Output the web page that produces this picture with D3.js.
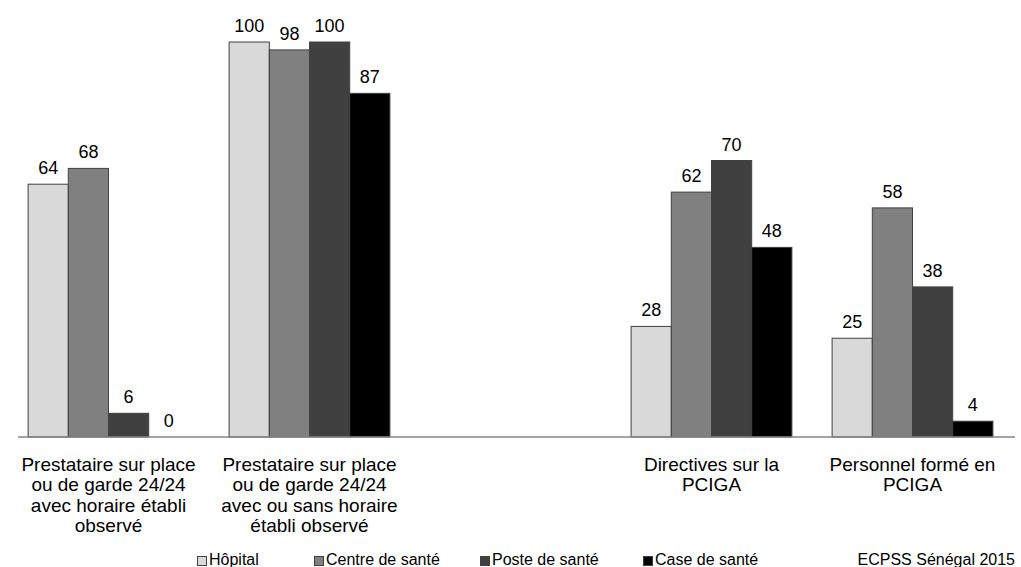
<!DOCTYPE html>
<html>
<head>
<meta charset="utf-8">
<script src="https://cdn.jsdelivr.net/npm/d3@7"></script>
<style>
  html, body { margin: 0; padding: 0; background: #fff; }
  svg { display: block; font-family: "Liberation Sans", Arial, sans-serif; }
</style>
</head>
<body>
<svg id="chart" width="1021" height="567"></svg>
<script>
// ---- data ----
const categories = [
  ["Prestataire sur place", "ou de garde 24/24", "avec horaire établi", "observé"],
  ["Prestataire sur place", "ou de garde 24/24", "avec ou sans horaire", "établi observé"],
  [],
  ["Directives sur la", "PCIGA"],
  ["Personnel formé en", "PCIGA"]
];
const seriesNames = ["Hôpital", "Centre de santé", "Poste de santé", "Case de santé"];
const hopital = [64, 100, null, 28, 25];
const centre  = [68, 98, null, 62, 58];
const poste   = [6, 100, null, 70, 38];
const cas     = [0, 87, null, 48, 4];
const seriesValues = [hopital, centre, poste, cas];
const sourceNote = "ECPSS Sénégal 2015";

// ---- styles ----
const colors = ["#d9d9d9", "#808080", "#404040", "#000000"];
const svg = d3.select("#chart");

const x0 = d3.scaleBand()
  .domain(d3.range(categories.length))
  .range([8, 1013])
  .paddingInner(0.2)
  .paddingOuter(0.1);
const x1 = d3.scaleBand()
  .domain(d3.range(seriesNames.length))
  .range([0, x0.bandwidth()])
  .padding(0);
const y = d3.scaleLinear().domain([0, 100]).range([437, 42]);

// bars
const rows = [];
categories.forEach((c, i) => {
  seriesValues.forEach((s, j) => {
    if (s[i] !== null && s[i] !== undefined) rows.push({ cat: i, ser: j, v: s[i] });
  });
});

const g = svg.append("g");
g.selectAll("rect.bar")
  .data(rows.filter(d => d.v > 0))
  .join("rect")
  .attr("class", "bar")
  .attr("x", d => x0(d.cat) + x1(d.ser))
  .attr("y", d => y(d.v))
  .attr("width", x1.bandwidth())
  .attr("height", d => y(0) - y(d.v))
  .attr("fill", d => colors[d.ser])
  .attr("stroke", "#404040")
  .attr("stroke-width", 1);

// value labels
g.selectAll("text.val")
  .data(rows)
  .join("text")
  .attr("class", "val")
  .attr("x", d => x0(d.cat) + x1(d.ser) + x1.bandwidth() / 2)
  .attr("y", d => y(d.v) - 10)
  .attr("text-anchor", "middle")
  .attr("font-size", 18)
  .attr("fill", "#000")
  .text(d => d.v);

// axis line
svg.append("line")
  .attr("x1", 18).attr("x2", 1015)
  .attr("y1", y(0)).attr("y2", y(0))
  .attr("stroke", "#868686").attr("stroke-width", 1.5);

// category labels
categories.forEach((lines, i) => {
  const t = svg.append("text")
    .attr("x", x0(i) + x0.bandwidth() / 2)
    .attr("y", 471)
    .attr("text-anchor", "middle")
    .attr("font-size", 19)
    .attr("fill", "#000");
  lines.forEach((ln, k) => {
    t.append("tspan")
      .attr("x", x0(i) + x0.bandwidth() / 2)
      .attr("y", 471 + k * 20.3)
      .text(ln);
  });
});

// legend
const legendX = [197, 314, 480, 643];
seriesNames.forEach((n, j) => {
  svg.append("rect")
    .attr("x", legendX[j] + 0.5).attr("y", 556.5)
    .attr("width", 9).attr("height", 9)
    .attr("fill", colors[j])
    .attr("stroke", "#404040").attr("stroke-width", 1);
  svg.append("text")
    .attr("x", legendX[j] + 12).attr("y", 565)
    .attr("font-size", 16)
    .attr("fill", "#000")
    .text(n);
});

svg.append("text")
  .attr("x", 1015).attr("y", 565)
  .attr("text-anchor", "end")
  .attr("font-size", 16)
  .attr("fill", "#000")
  .text(sourceNote);
</script>
</body>
</html>
